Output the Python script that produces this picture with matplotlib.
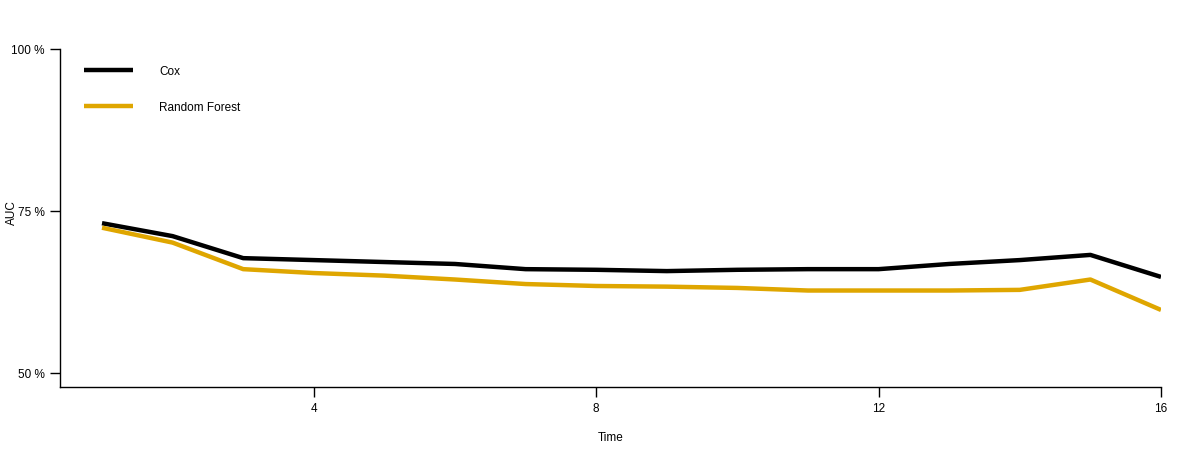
import numpy as np
import matplotlib
matplotlib.use('Agg')
import matplotlib.pyplot as plt
from matplotlib.ticker import FuncFormatter

plt.rcParams['font.family'] = ['Liberation Sans', 'DejaVu Sans']

# AUC over time (percent)
times = np.arange(1, 17)
cox = [73.1, 71.1, 67.7, 67.4, 67.1, 66.8, 66.0, 65.9, 65.7, 65.9,
       66.0, 66.0, 66.8, 67.4, 68.2, 64.8]
rf = [72.4, 70.1, 66.0, 65.4, 65.0, 64.4, 63.7, 63.4, 63.3, 63.1,
      62.7, 62.7, 62.7, 62.8, 64.4, 59.7]
labels = ['Cox', 'Random Forest']
colors = ['black', '#DFA600']

f = plt.figure(figsize=(11.84, 4.56), dpi=100)
ax = f.add_axes([60/1184, 1 - 388/456, (1161-60)/1184, (388-50)/456])

for vals, lab, col in zip([cox, rf], labels, colors):
    ax.plot(times, vals, color=col, lw=3.2, label=lab, solid_capstyle='butt')

ax.set_xlim(0.405, 16)
ax.set_ylim(47.8, 100)
ax.set_xticks([4, 8, 12, 16])
ax.set_yticks([50, 75, 100])
ax.yaxis.set_major_formatter(FuncFormatter(lambda v, p: f'{v:.0f} %'))
for s in ['top', 'right']:
    ax.spines[s].set_visible(False)
for s in ['left', 'bottom']:
    ax.spines[s].set_linewidth(1.0)
ax.tick_params(axis='both', labelsize=8.5, length=7, width=1, pad=4)
ax.set_xlabel('Time', fontsize=8.5, labelpad=12)
ax.set_ylabel('AUC', fontsize=8.5)
ax.yaxis.set_label_coords(-0.038, 0.52)

leg = ax.legend(loc='upper left', bbox_to_anchor=(0.012, 0.985), frameon=False,
                fontsize=8.5, handlelength=4.2, handletextpad=2.2, labelspacing=2.1)

plt.savefig('out.png', dpi=100)
